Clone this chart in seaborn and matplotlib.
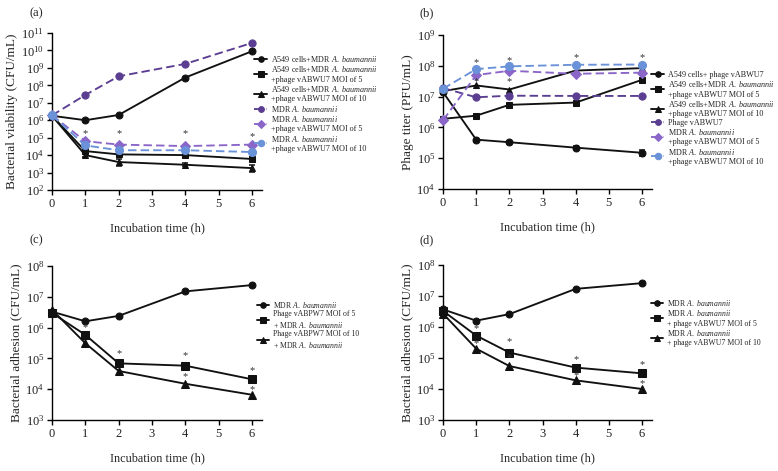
import numpy as np
import matplotlib
matplotlib.use('Agg')
import matplotlib.pyplot as plt
import seaborn as sns
from matplotlib.ticker import LogLocator, LogFormatterMathtext, NullLocator

sns.set_theme(style='ticks')
plt.rcParams['font.family'] = ['Liberation Serif', 'DejaVu Serif']
plt.rcParams['mathtext.fontset'] = 'custom'
plt.rcParams['mathtext.rm'] = 'Liberation Serif'
plt.rcParams['mathtext.it'] = 'Liberation Serif:italic'
plt.rcParams['mathtext.bf'] = 'Liberation Serif:bold'

# ---------------- data ----------------
time = [0, 1, 2, 4, 6]
AB = r'$\mathit{A.\ baumannii}$'

# (a) bacterial viability
a_cells_mdr = [1.8e6, 1.0e6, 2.0e6, 2.8e8, 9.0e9]
a_cells_moi5 = [1.8e6, 1.7e4, 1.1e4, 1.0e4, 6.0e3]
a_cells_moi10 = [1.8e6, 1.0e4, 4.0e3, 2.8e3, 1.8e3]
a_mdr = [1.9e6, 2.8e7, 3.3e8, 1.7e9, 2.7e10]
a_mdr_moi5 = [1.9e6, 6.3e4, 4.0e4, 3.3e4, 4.0e4]
a_mdr_moi10 = [1.9e6, 3.6e4, 1.9e4, 1.9e4, 1.5e4]
a_err_moi5 = [0, 0.05, 0.08, 0.1, 0.12]
a_err_moi10 = [0, 0.08, 0.2, 0.08, 0.2]
a_star_x = [1, 2, 4, 6]
a_star_y = [1.6e5, 1.6e5, 1.6e5, 1.1e5]

# (b) phage titer
b_cells_phage = [1.4e7, 4.0e5, 3.3e5, 2.2e5, 1.5e5]
b_cells_moi5 = [1.9e6, 2.4e6, 5.4e6, 6.4e6, 3.5e7]
b_cells_moi10 = [1.5e7, 2.3e7, 1.7e7, 7.0e7, 8.4e7]
b_phage = [1.9e7, 9.5e6, 1.07e7, 1.05e7, 1.05e7]
b_mdr_moi5 = [1.7e6, 5.0e7, 6.9e7, 5.5e7, 6.0e7]
b_mdr_moi10 = [1.8e7, 7.8e7, 9.6e7, 1.08e8, 1.1e8]
b_err_phage = [0, 0.03, 0.03, 0.04, 0.1]
b_star_x = [1, 1, 2, 2, 4, 6]
b_star_y = [1.3e8, 3.0e7, 1.5e8, 3.0e7, 1.9e8, 1.9e8]

# (c) bacterial adhesion, vABPW7
c_mdr = [3.3e6, 1.6e6, 2.4e6, 1.5e7, 2.4e7]
c_moi5 = [3.0e6, 5.8e5, 6.9e4, 5.8e4, 2.1e4]
c_moi10 = [3.8e6, 3.1e5, 3.9e4, 1.5e4, 6.6e3]
c_star_x = [1, 2, 4, 4, 6, 6]
c_star_y = [1.0e6, 1.45e5, 1.2e5, 2.6e4, 4.0e4, 1.0e4]

# (d) bacterial adhesion, vABWU7
d_mdr = [3.7e6, 1.6e6, 2.6e6, 1.7e7, 2.6e7]
d_moi5 = [3.3e6, 5.3e5, 1.5e5, 4.9e4, 3.2e4]
d_moi10 = [2.7e6, 2.0e5, 5.5e4, 1.9e4, 1.0e4]
d_star_x = [1, 1, 2, 2, 4, 4, 6, 6]
d_star_y = [9.0e5, 3.0e5, 3.4e5, 1.0e5, 8.6e4, 2.8e4, 6.0e4, 1.5e4]

DPURPLE = '#5b3e91'
MPURPLE = '#8a66c9'
LBLUE = '#6a92d8'
BLACK = '#111111'


def draw(ax, y, color, marker, ls, label, ms=5, err=None):
    kw = dict(linestyle='-')
    if ls == '--':
        kw = dict(dashes=(4.5, 2.2))
    sns.lineplot(x=time, y=y, ax=ax, color=color, marker=marker,
                 markersize=ms, markeredgecolor=color, linewidth=1.35,
                 label=label, clip_on=False, zorder=3, **kw)
    if err is not None:
        v = np.array(y)
        e = np.array(err)
        lo = v - v / 10 ** e
        hi = v * 10 ** e - v
        ax.errorbar(time, v, yerr=[lo, hi], fmt='none', ecolor=color,
                    elinewidth=1.1, capsize=2.4, capthick=1.1, clip_on=False, zorder=3)


def style_axis(ax, ylo, yhi, ylabel):
    ax.set_yscale('log')
    ax.set_ylim(ylo, yhi)
    ax.set_xlim(0, 6.3)
    ax.set_xticks([0, 1, 2, 3, 4, 5, 6])
    ax.yaxis.set_major_locator(LogLocator(base=10, numticks=20))
    ax.yaxis.set_major_formatter(LogFormatterMathtext())
    ax.yaxis.set_minor_locator(NullLocator())
    for s in ['top', 'right']:
        ax.spines[s].set_visible(False)
    for s in ['left', 'bottom']:
        ax.spines[s].set_color('black')
        ax.spines[s].set_linewidth(1.0)
    ax.tick_params(axis='both', labelsize=9, length=3.5, width=1.0,
                   color='black', labelcolor='#222222', pad=2)
    ax.set_xlabel('Incubation time (h)', fontsize=8.8, labelpad=9)
    ax.set_ylabel(ylabel, fontsize=9.5, labelpad=2)


def stars(ax, xs, ys):
    for x, y in zip(xs, ys):
        ax.text(x, y, '*', ha='center', va='center', fontsize=7.5,
                color='#333333', zorder=4)


W, H = 778, 471
fig = plt.figure(figsize=(W / 100, H / 100), dpi=100)


def box(l, t, r, b):
    return [l / W, 1 - b / H, (r - l) / W, (b - t) / H]


ax_a = fig.add_axes(box(52, 33, 262, 190))
ax_b = fig.add_axes(box(443, 35, 652, 189))
ax_c = fig.add_axes(box(52, 266, 262, 420))
ax_d = fig.add_axes(box(443, 265, 652, 420))

# ---- (a)
draw(ax_a, a_cells_mdr, BLACK, 'o', '-', 'A549 cells+MDR ' + AB)
draw(ax_a, a_cells_moi5, BLACK, 's', '-', 'A549 cells+MDR ' + AB + '\n+phage vABWU7 MOI of 5', err=a_err_moi5)
draw(ax_a, a_cells_moi10, BLACK, '^', '-', 'A549 cells+MDR ' + AB + '\n+phage vABWU7 MOI of 10', err=a_err_moi10)
draw(ax_a, a_mdr, DPURPLE, 'o', '--', 'MDR ' + AB, ms=5.2)
draw(ax_a, a_mdr_moi5, MPURPLE, 'D', '--', 'MDR ' + AB + '\n+phage vABWU7 MOI of 5', ms=4.6)
draw(ax_a, a_mdr_moi10, LBLUE, 'o', '--', 'MDR ' + AB + '\n+phage vABWU7 MOI of 10', ms=5.8)
stars(ax_a, a_star_x, a_star_y)
style_axis(ax_a, 1e2, 1e11, 'Bacterial viability (CFU/mL)')

# ---- (b)
draw(ax_b, b_cells_phage, BLACK, 'o', '-', 'A549 cells+ phage vABWU7', err=b_err_phage)
draw(ax_b, b_cells_moi5, BLACK, 's', '-', 'A549 cells+MDR ' + AB + '\n+phage vABWU7 MOI of 5')
draw(ax_b, b_cells_moi10, BLACK, '^', '-', 'A549 cells+MDR ' + AB + '\n+phage vABWU7 MOI of 10')
draw(ax_b, b_phage, DPURPLE, 'o', '--', 'Phage vABWU7', ms=5.2)
draw(ax_b, b_mdr_moi5, MPURPLE, 'D', '--', 'MDR ' + AB + '\n+phage vABWU7 MOI of 5', ms=4.6)
draw(ax_b, b_mdr_moi10, LBLUE, 'o', '--', 'MDR ' + AB + '\n+phage vABWU7 MOI of 10', ms=5.8)
stars(ax_b, b_star_x, b_star_y)
style_axis(ax_b, 1e4, 1e9, 'Phage titer (PFU/mL)')

# ---- (c)
draw(ax_c, c_mdr, BLACK, 'o', '-', 'MDR ' + AB)
draw(ax_c, c_moi5, BLACK, 's', '-', 'Phage vABPW7 MOI of 5\n+ MDR ' + AB, ms=5.5)
draw(ax_c, c_moi10, BLACK, '^', '-', 'Phage vABPW7 MOI of 10\n+ MDR ' + AB, ms=5.5)
stars(ax_c, c_star_x, c_star_y)
style_axis(ax_c, 1e3, 1e8, 'Bacterial adhesion (CFU/mL)')

# ---- (d)
draw(ax_d, d_mdr, BLACK, 'o', '-', 'MDR ' + AB)
draw(ax_d, d_moi5, BLACK, 's', '-', 'MDR ' + AB + '\n+ phage vABWU7 MOI of 5', ms=5.5)
draw(ax_d, d_moi10, BLACK, '^', '-', 'MDR ' + AB + '\n+ phage vABWU7 MOI of 10', ms=5.5)
stars(ax_d, d_star_x, d_star_y)
style_axis(ax_d, 1e3, 1e8, 'Bacterial adhesion (CFU/mL)')

# legends
leg_kw = dict(frameon=False, handlelength=1.6, handletextpad=0.5,
              labelspacing=0.05, borderaxespad=0, borderpad=0,
              markerscale=0.8, loc='upper left')
ax_a.legend(fontsize=5.9, bbox_to_anchor=(254 / W, 1 - 54 / H),
            bbox_transform=fig.transFigure, **leg_kw)
ax_b.legend(fontsize=5.9, bbox_to_anchor=(651 / W, 1 - 71 / H),
            bbox_transform=fig.transFigure, **leg_kw)
ax_c.legend(fontsize=5.6, bbox_to_anchor=(257 / W, 1 - 300 / H),
            bbox_transform=fig.transFigure, **leg_kw)
ax_d.legend(fontsize=5.6, bbox_to_anchor=(651 / W, 1 - 298 / H),
            bbox_transform=fig.transFigure, **leg_kw)

# panel letters
for lab, x, y in [('(a)', 30, 13), ('(b)', 420, 13), ('(c)', 30, 240), ('(d)', 420, 240)]:
    fig.text(x / W, 1 - y / H, lab, fontsize=9, ha='left', va='center')

fig.savefig('out.png', dpi=100)
